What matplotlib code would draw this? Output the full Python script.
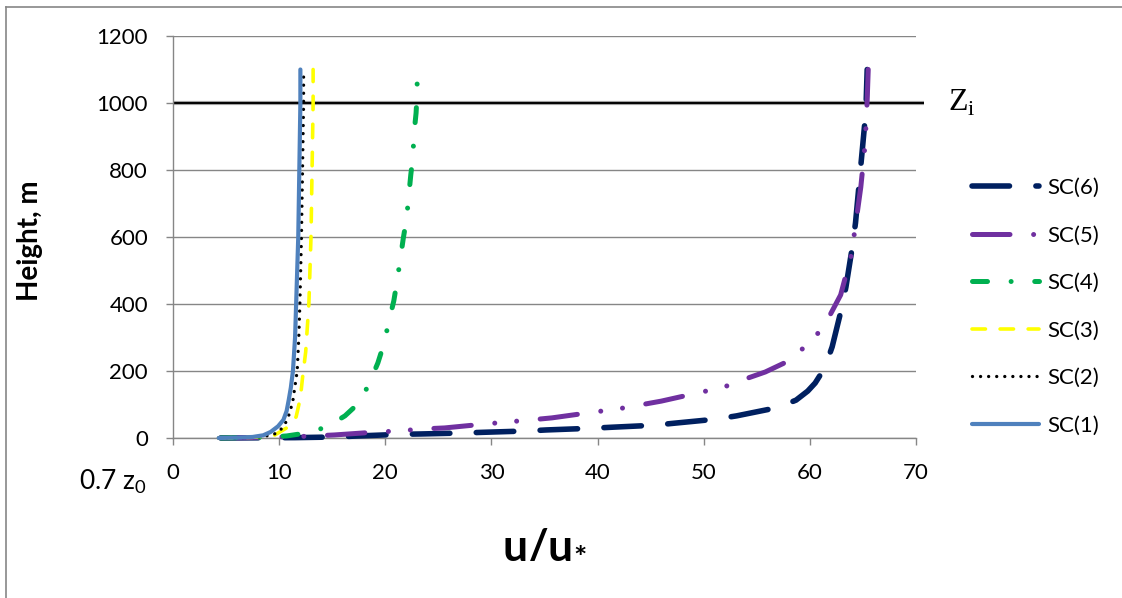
import matplotlib
matplotlib.use("Agg")
import matplotlib.pyplot as plt
from matplotlib.lines import Line2D

plt.rcParams['font.family'] = ['Lato', 'DejaVu Sans']
plt.rcParams['lines.scale_dashes'] = False

# velocity profiles: height (m) and u/u* for each stability class
h6 = [0, 1, 3, 6, 11, 12, 15, 17, 21, 24, 29, 32, 38, 44, 56, 66, 91, 113, 140, 164, 209, 272, 388, 451, 570, 642, 949, 1000, 1100]
u6 = [4.5, 11.5, 15.4, 17.4, 21.5, 23.4, 27.4, 29.3, 33.4, 35.2, 39.4, 41.3, 45.3, 47.2, 51.1, 53.1, 57.0, 58.7, 59.8, 60.5, 61.4, 62.1, 63.0, 63.4, 64.0, 64.3, 65.2, 65.3, 65.4]

h5 = [0, 2, 5, 9, 18, 21, 27, 30, 42, 48, 54, 60, 78, 86, 98, 110, 137, 152, 176, 197, 224, 263, 310, 367, 427, 546, 612, 680, 749, 875, 940, 1009, 1100]
u5 = [4.5, 9.0, 12.5, 15.2, 19.3, 21.3, 23.5, 25.6, 29.5, 31.6, 33.7, 35.7, 39.8, 41.8, 43.9, 46.0, 49.8, 51.9, 53.9, 55.8, 57.6, 59.2, 60.7, 61.9, 62.9, 63.9, 64.2, 64.5, 64.8, 65.2, 65.3, 65.4, 65.5]

h4 = [0, 1, 3, 6, 15, 33, 66, 107, 164, 224, 284, 343, 409, 466, 531, 597, 654, 719, 785, 839, 907, 970, 1030, 1100]
u4 = [4.5, 7.0, 9.0, 10.7, 12.6, 14.5, 16.2, 17.6, 18.5, 19.3, 19.9, 20.3, 20.8, 21.1, 21.4, 21.7, 22.0, 22.2, 22.4, 22.6, 22.7, 22.9, 23.0, 23.0]

h3 = [0, 2, 9, 30, 63, 120, 179, 257, 400, 600, 800, 1000, 1100]
u3 = [4.3, 7.5, 9.6, 10.7, 11.6, 12.0, 12.2, 12.5, 12.8, 13.0, 13.1, 13.2, 13.2]

h2 = [0, 1, 3, 8, 15, 30, 45, 75, 113, 200, 300, 400, 600, 800, 1000, 1100]
u2 = [4.3, 6.5, 8.0, 9.2, 9.8, 10.3, 10.6, 11.0, 11.3, 11.7, 11.85, 11.95, 12.1, 12.2, 12.3, 12.3]

h1 = [0, 1, 3, 8, 18, 35, 54, 80, 113, 150, 200, 300, 400, 600, 800, 1000, 1100]
u1 = [4.3, 6.0, 7.5, 8.5, 9.2, 9.9, 10.4, 10.7, 10.9, 11.1, 11.3, 11.5, 11.6, 11.8, 11.9, 12.0, 12.0]

labels = ['SC(6)', 'SC(5)', 'SC(4)', 'SC(3)', 'SC(2)', 'SC(1)']
zi = 1000

x_ticks = [0, 10, 20, 30, 40, 50, 60, 70]
y_ticks = [0, 200, 400, 600, 800, 1000, 1200]

series = [(u6, h6), (u5, h5), (u4, h4), (u3, h3), (u2, h2), (u1, h1)]
styles = [
    dict(color='#002060', lw=4.0, dashes=(27, 19)),
    dict(color='#7030A0', lw=3.6, dashes=(27, 17, 0.01, 15.8, 0.01, 17)),
    dict(color='#00B050', lw=3.6, dashes=(10.8, 17, 0.01, 17)),
    dict(color='#FFFF00', lw=2.6, dashes=(9.7, 10.5)),
    dict(color='black', lw=2.4, dashes=(0.01, 5.8)),
    dict(color='#4F81BD', lw=3.0),
]

grey = '#868686'

fig = plt.figure(figsize=(11.22, 5.98), dpi=100)
ax = fig.add_axes([0.1542, 0.2676, 0.6622, 0.6722])

ax.set_xlim(0, 70)
ax.set_ylim(0, 1200)
ax.set_xticks(x_ticks)
ax.set_yticks(y_ticks)
ax.yaxis.grid(True, color=grey, lw=1.0)
ax.set_axisbelow(True)
for side in ['top', 'right']:
    ax.spines[side].set_visible(False)
for side in ['left', 'bottom']:
    ax.spines[side].set_color(grey)
    ax.spines[side].set_linewidth(1.0)
ax.tick_params(direction='out', length=5, width=1, color=grey, labelsize=16)
ax.tick_params(axis='x', pad=13)
ax.tick_params(axis='y', pad=13)

# mixing height line
ax.plot([0, 70.8], [zi, zi], color='#a0a0a0', lw=3.0, clip_on=False, zorder=2,
        solid_capstyle='butt')
ax.plot([0, 70.8], [zi, zi], color='black', lw=1.4, clip_on=False, zorder=2.1,
        solid_capstyle='butt')

for (u, h), st, lab in zip(series, styles, labels):
    ax.plot(u, h, label=lab, solid_capstyle='round', dash_capstyle='round',
            solid_joinstyle='round', clip_on=False, zorder=3, **st)

ax.text(73.0, zi, 'Z$_\\mathregular{i}$', family='Liberation Serif', fontsize=23,
        ha='left', va='center')

ax.set_ylabel('Height, m', fontsize=20, fontweight='bold', va='center')
ax.yaxis.set_label_coords(-0.192, 0.49)

fig.text(545 / 1122, 1 - 543 / 598, 'u/u$_\\mathregular{*}$', fontsize=32,
         fontweight='bold', ha='center', va='center')
fig.text(147 / 1122, 1 - 489 / 598, '0.7 z$_\\mathregular{0}$', fontsize=19,
         ha='right', va='baseline')

fig.legend(loc='upper left', bbox_to_anchor=(972 / 1122, 1 - 178 / 598),
           frameon=False, fontsize=16, handlelength=3.0, handletextpad=0.4,
           labelspacing=1.24, borderpad=0, borderaxespad=0)

# outer chart border
fig.add_artist(Line2D([6 / 1122, 6 / 1122], [0, 1 - 7 / 598], color=grey, lw=1.2))
fig.add_artist(Line2D([6 / 1122, 1], [1 - 7 / 598, 1 - 7 / 598], color=grey, lw=1.2))

fig.savefig('out.png', dpi=100)
